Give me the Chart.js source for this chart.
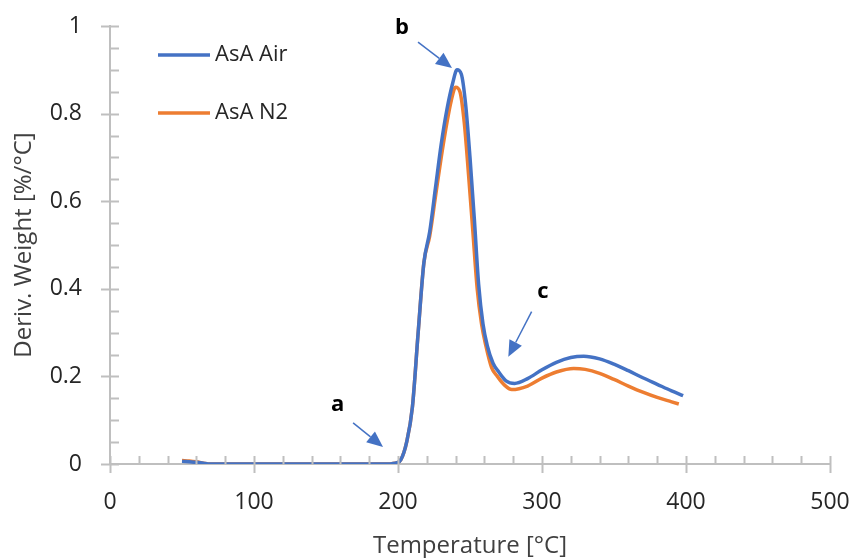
<!DOCTYPE html>
<html>
<head>
<meta charset="utf-8">
<script src="https://cdn.jsdelivr.net/npm/chart.js@4.4.1/dist/chart.umd.min.js"></script>
<style>
  html, body { margin: 0; padding: 0; background: #fff; }
  #wrap { width: 855px; height: 558px; position: relative; }
</style>
</head>
<body>
<div id="wrap"><canvas id="dtg"></canvas></div>
<script>
// DTG curves
const airTemp = [50, 55, 60, 65, 68, 80, 100, 150, 190, 198, 202, 206, 210, 214, 218, 222, 226, 230, 234, 238, 241, 244, 247, 250, 253, 256, 259, 262, 266, 270, 275, 281, 290, 300, 310, 320, 329, 340, 350, 360, 370, 380, 390, 398];
const airDeriv = [0.006, 0.005, 0.004, 0.002, 0.0, 0.0, 0.0, 0.0, 0.0, 0.002, 0.01, 0.05, 0.13, 0.3, 0.46, 0.53, 0.63, 0.73, 0.81, 0.87, 0.9, 0.89, 0.82, 0.7, 0.56, 0.41, 0.32, 0.27, 0.23, 0.21, 0.19, 0.184, 0.195, 0.215, 0.232, 0.243, 0.246, 0.24, 0.228, 0.213, 0.197, 0.182, 0.167, 0.156];
const n2Temp = [50, 55, 60, 65, 70, 80, 100, 150, 190, 198, 202, 206, 210, 214, 218, 222, 226, 230, 234, 237, 240, 243, 246, 249, 252, 255, 258, 261, 265, 269, 274, 279, 290, 300, 310, 322, 330, 340, 350, 360, 370, 380, 390, 395];
const n2Deriv = [0.008, 0.007, 0.005, 0.002, 0.0, 0.0, 0.0, 0.0, 0.0, 0.002, 0.01, 0.05, 0.13, 0.3, 0.46, 0.52, 0.61, 0.7, 0.78, 0.83, 0.86, 0.85, 0.78, 0.66, 0.53, 0.4, 0.32, 0.27, 0.22, 0.2, 0.18, 0.17, 0.178, 0.196, 0.21, 0.218, 0.216, 0.207, 0.193, 0.178, 0.164, 0.152, 0.142, 0.137];
const seriesNames = ['AsA Air', 'AsA N2'];
const xTicks = [0, 100, 200, 300, 400, 500];
const yTicks = [0, 0.2, 0.4, 0.6, 0.8, 1];

const font = "'Open Sans', 'Noto Sans', sans-serif";
const axisGray = '#bfbfbf';

function pts(xs, ys) {
  return xs.map((x, i) => ({ x: x, y: ys[i] }));
}

// ticks, legend, a/b/c markers
const extras = {
  id: 'extras',
  afterDraw(chart) {
    const c = chart.ctx;
    const xs = chart.scales.x, ys = chart.scales.y;
    const x0 = xs.getPixelForValue(0), yb = ys.getPixelForValue(0);
    c.save();
    c.strokeStyle = axisGray;
    c.lineWidth = 2;
    c.beginPath();
    for (let v = 0; v <= 500; v += 20) {
      const px = Math.round(xs.getPixelForValue(v)) + 0.5;
      const major = v % 100 === 0;
      c.moveTo(px, yb - 8);
      c.lineTo(px, major ? yb + 9 : yb);
    }
    for (let k = 0; k <= 20; k++) {
      const py = Math.round(ys.getPixelForValue(k * 0.05)) + 0.5;
      const major = k % 4 === 0;
      c.moveTo(major ? x0 - 9 : x0, py);
      c.lineTo(x0 + 9, py);
    }
    c.stroke();

    // legend
    c.font = '22px ' + font;
    c.textBaseline = 'middle';
    c.textAlign = 'left';
    chart.data.datasets.forEach((ds, i) => {
      const ly = 55 + i * 58;
      c.strokeStyle = ds.borderColor;
      c.lineWidth = 3.5;
      c.beginPath();
      c.moveTo(158, ly);
      c.lineTo(210, ly);
      c.stroke();
      c.fillStyle = '#262626';
      c.fillText(ds.label, 215, ly);
    });

    // arrows with labels
    const marks = [
      { t: 'a', lx: 158, ly: 0.135, fx: 168.8, fy: 0.094, tx: 189.6, ty: 0.039 },
      { t: 'b', lx: 202.8, ly: 0.995, fx: 213.9, fy: 0.963, tx: 237.5, ty: 0.904 },
      { t: 'c', lx: 300.7, ly: 0.393, fx: 292.8, fy: 0.348, tx: 276.6, ty: 0.245 }
    ];
    c.font = 'bold 22px ' + font;
    c.textAlign = 'center';
    marks.forEach(m => {
      c.fillStyle = '#000';
      c.fillText(m.t, xs.getPixelForValue(m.lx), ys.getPixelForValue(m.ly));
      const ax = xs.getPixelForValue(m.fx), ay = ys.getPixelForValue(m.fy);
      const bx = xs.getPixelForValue(m.tx), by = ys.getPixelForValue(m.ty);
      const ang = Math.atan2(by - ay, bx - ax);
      const hl = 16, hw = 7;
      const sx = bx - hl * Math.cos(ang), sy = by - hl * Math.sin(ang);
      c.strokeStyle = '#4472c4';
      c.fillStyle = '#4472c4';
      c.lineWidth = 1.5;
      c.beginPath();
      c.moveTo(ax, ay);
      c.lineTo(sx, sy);
      c.stroke();
      c.beginPath();
      c.moveTo(bx, by);
      c.lineTo(sx + hw * Math.sin(ang), sy - hw * Math.cos(ang));
      c.lineTo(sx - hw * Math.sin(ang), sy + hw * Math.cos(ang));
      c.closePath();
      c.fill();
    });
    c.restore();
  }
};

new Chart(document.getElementById('dtg'), {
  type: 'scatter',
  data: {
    datasets: [
      { label: seriesNames[0], data: pts(airTemp, airDeriv), borderColor: '#4472c4', backgroundColor: '#4472c4' },
      { label: seriesNames[1], data: pts(n2Temp, n2Deriv), borderColor: '#ed7d31', backgroundColor: '#ed7d31' }
    ]
  },
  options: {
    responsive: true,
    maintainAspectRatio: false,
    animation: false,
    showLine: true,
    elements: {
      point: { radius: 0 },
      line: { borderWidth: 3.5, tension: 0.35, cubicInterpolationMode: 'monotone' }
    },
    layout: { padding: { top: 26, right: 25, left: 0, bottom: 0 } },
    plugins: { legend: { display: false }, tooltip: { enabled: false } },
    scales: {
      x: {
        type: 'linear', min: 0, max: 500,
        afterBuildTicks: s => { s.ticks = xTicks.map(v => ({ value: v })); },
        grid: { display: false },
        border: { display: true, color: axisGray, width: 2 },
        ticks: { color: '#262626', padding: 17, font: { family: font, size: 23 } },
        title: { display: true, text: 'Temperature [°C]', color: '#404040', font: { family: font, size: 24 }, padding: { top: 2, bottom: -3 } },
        afterFit: s => { s.height = 94; }
      },
      y: {
        min: 0, max: 1,
        afterBuildTicks: s => { s.ticks = yTicks.map(v => ({ value: v })); },
        grid: { display: false },
        border: { display: true, color: axisGray, width: 2 },
        ticks: { color: '#262626', padding: 20, font: { family: font, size: 23 }, callback: v => String(v) },
        title: { display: true, text: 'Deriv. Weight [%/°C]', color: '#404040', font: { family: font, size: 24 }, padding: { top: 10, bottom: 0 } },
        afterFit: s => { s.width = 110; }
      }
    }
  },
  plugins: [extras, {
    id: 'pinArea',
    // pin the plot frame to the reference position
    afterLayout(chart) {
      const a = chart.chartArea;
      const L = 110, R = 830, T = 26, B = 464;
      a.left = L; a.right = R; a.top = T; a.bottom = B;
      a.width = R - L; a.height = B - T;
      const xs = chart.scales.x, ys = chart.scales.y;
      xs.left = L; xs.right = R; xs.width = R - L;
      xs.top = B; xs.bottom = B + 94; xs.height = 94;
      ys.top = T; ys.bottom = B; ys.height = B - T;
      ys.left = 0; ys.right = L; ys.width = L;
      xs.configure(); ys.configure();
    }
  }]
});
</script>
</body>
</html>
